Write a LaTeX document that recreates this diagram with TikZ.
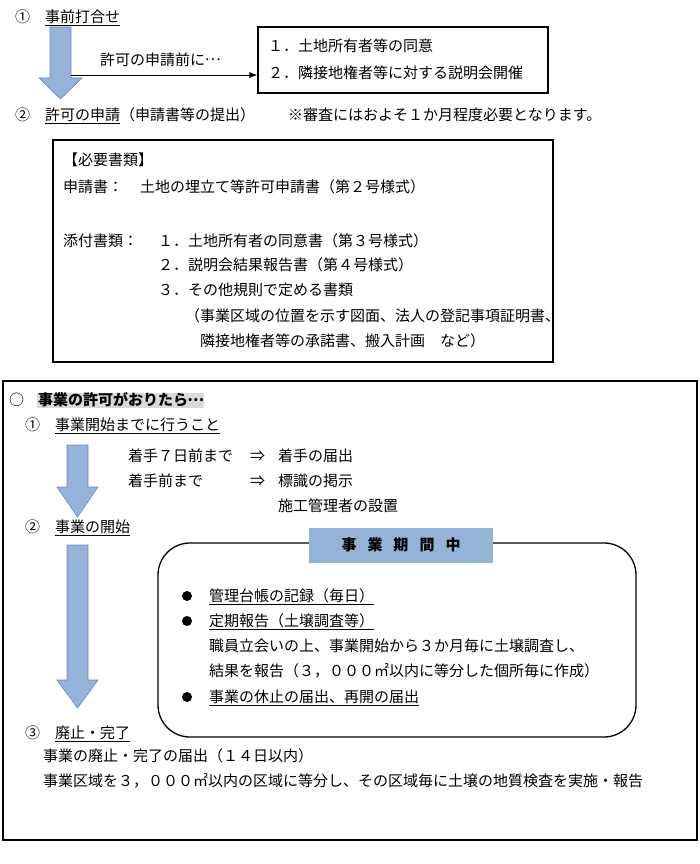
\documentclass[tikz,border=0pt]{standalone}
\usepackage{fontspec}
\setmainfont{Noto Sans CJK JP}
\newcommand{\fwdots}{\makebox[15pt][c]{\raisebox{4.5pt}{…}}}
\usetikzlibrary{arrows.meta}
\definecolor{arrowblue}{RGB}{149,179,215}
\definecolor{arrowedge}{RGB}{105,135,185}
\definecolor{hlgray}{RGB}{217,217,217}
\begin{document}
\begin{tikzpicture}[x=1pt,y=-1pt,
  txt/.style={anchor=west,inner sep=0pt,text height=13pt,text depth=2pt,font=\fontsize{15pt}{18pt}\selectfont},
  blockarrow/.style={fill=arrowblue,draw=arrowedge,line width=0.6pt},
  frame/.style={draw,line width=1.2pt,inner sep=0pt},
  bullet/.style={circle,fill,inner sep=0pt,minimum size=10pt}]
\useasboundingbox (0,0) rectangle (700,864);

% ---------- top part ----------
\node[txt] (s1) at (15,17) {①\hspace{15pt}\underline{事前打合せ}};
\draw[blockarrow] (50,27) -- (71,27) -- (71,78) -- (82,78) -- (60.5,99) -- (39,78) -- (50,78) -- cycle;
\coordinate (a1r) at (71,75);
\node[frame,minimum width=290pt,minimum height=66pt] (box1) at (403,60) {};
\node[txt] (b1l1) at (268,46) {１．土地所有者等の同意};
\node[txt] (b1l2) at (268,73) {２．隣接地権者等に対する説明会開催};
\draw[-{Latex[length=8pt,width=6pt]},line width=0.8pt] (a1r) -- (a1r -| box1.west);
\node[txt] (lbl1) at (100,60) {許可の申請前に\fwdots};

\node[txt] (s2) at (15,115) {②\hspace{15pt}\underline{許可の申請}（申請書等の提出）};
\node[txt] (note) at (288,115) {※審査にはおよそ１か月程度必要となります。};

\node[frame,minimum width=500pt,minimum height=222pt] (box2) at (303,251) {};
\node[txt] (r1) at (63,160) {【必要書類】};
\node[txt] (r2a) at (63,187) {申請書：};
\node[txt] (r2b) at (140,187) {土地の埋立て等許可申請書（第２号様式）};
\node[txt] (r3a) at (63,241) {添付書類：};
\node[txt] (r3b) at (158,241) {１．土地所有者の同意書（第３号様式）};
\node[txt] (r4) at (158,265) {２．説明会結果報告書（第４号様式）};
\node[txt] (r5) at (158,290) {３．その他規則で定める書類};
\node[txt] (r6) at (185,316) {（事業区域の位置を示す図面、法人の登記事項証明書、};
\node[txt] (r7) at (200,341) {隣接地権者等の承諾書、搬入計画　など）};

% ---------- bottom part ----------
\node[draw,line width=2.5pt,inner sep=0pt,minimum width=694pt,minimum height=459pt] (bigbox) at (350,610.5) {};
\node[txt] (circ) at (9,400) {○};
\node[txt,fill=hlgray,inner xsep=1pt,font=\fontsize{15pt}{18pt}\selectfont\bfseries] (head) at (37,400) {事業の許可がおりたら\fwdots};

\node[txt] (t1) at (25,425) {①\hspace{15pt}\underline{事業開始までに行うこと}};
\draw[blockarrow] (67,445) -- (88,445) -- (88,487) -- (98,487) -- (77.5,517) -- (57,487) -- (67,487) -- cycle;
\node[txt] (p1a) at (128,456) {着手７日前まで};
\node[txt] (p1b) at (250,456) {⇒};
\node[txt] (p1c) at (278,456) {着手の届出};
\node[txt] (p2a) at (128,481) {着手前まで};
\node[txt] (p2b) at (250,481) {⇒};
\node[txt] (p2c) at (278,481) {標識の掲示};
\node[txt] (p3c) at (278,506) {施工管理者の設置};

\node[txt] (t2) at (25,527) {②\hspace{15pt}\underline{事業の開始}};
\draw[blockarrow] (67,545) -- (88,545) -- (88,680) -- (98,680) -- (77.5,708) -- (57,680) -- (67,680) -- cycle;

\node[draw,line width=1.3pt,rounded corners=32pt,inner sep=0pt,minimum width=478pt,minimum height=194pt] (period) at (397,640) {};
\node[fill=arrowblue,inner sep=0pt,minimum width=184pt,minimum height=35pt,font=\fontsize{15pt}{18pt}\selectfont\bfseries] (ptitle) at (401,545) {事\hspace{11pt}業\hspace{11pt}期\hspace{11pt}間\hspace{11pt}中};
\node[bullet] (d1) at (187,596) {};
\node[txt] (q1) at (209,596) {\underline{管理台帳の記録（毎日）}};
\node[bullet] (d2) at (187,621) {};
\node[txt] (q2) at (209,621) {\underline{定期報告（土壌調査等）}};
\node[txt] (q3) at (209,646) {職員立会いの上、事業開始から３か月毎に土壌調査し、};
\node[txt] (q4) at (209,671) {結果を報告（３，０００㎡以内に等分した個所毎に作成）};
\node[bullet] (d3) at (187,697) {};
\node[txt] (q5) at (209,697) {\underline{事業の休止の届出、再開の届出}};

\node[txt] (t3) at (25,733) {③\hspace{15pt}\underline{廃止・完了}};
\node[txt] (e1) at (43,756) {事業の廃止・完了の届出（１４日以内）};
\node[txt] (e2) at (43,781) {事業区域を３，０００㎡以内の区域に等分し、その区域毎に土壌の地質検査を実施・報告};
\end{tikzpicture}
\end{document}
